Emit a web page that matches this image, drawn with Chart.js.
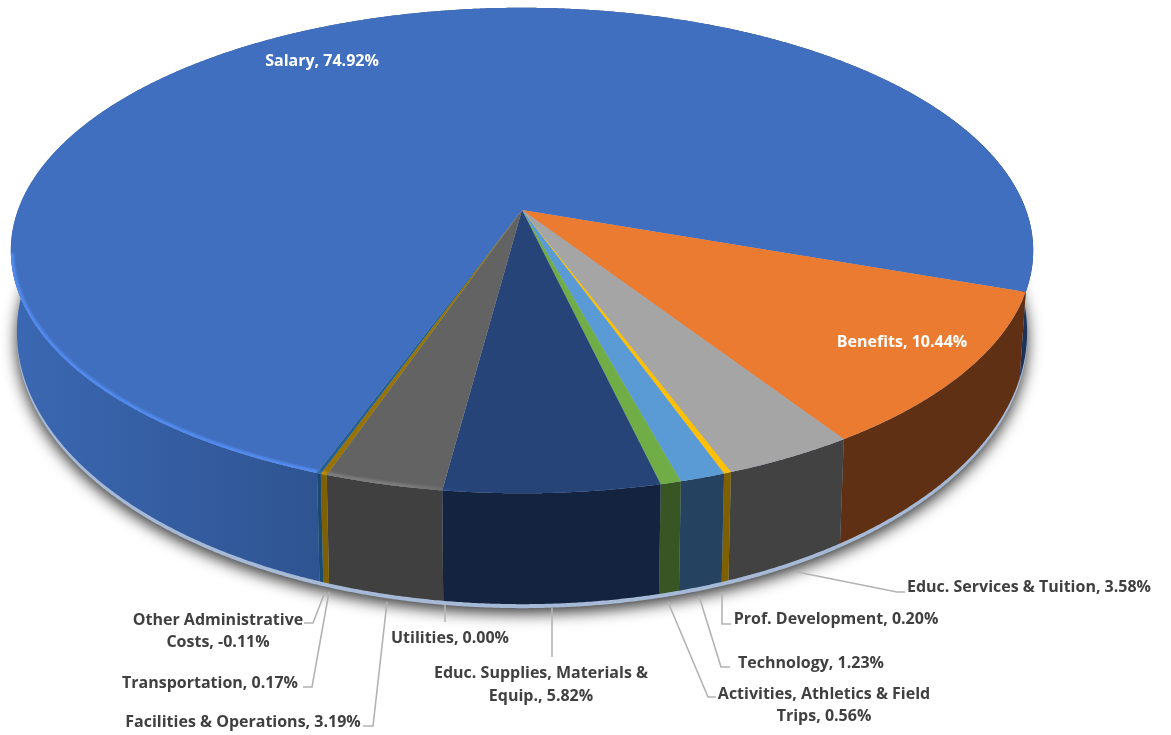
<!DOCTYPE html>
<html lang="en">
<head>
    <meta charset="UTF-8">
    <title>Budget by category</title>
    <script src="https://cdn.jsdelivr.net/npm/chart.js"></script>
    <style>
        html, body { margin: 0; padding: 0; background: #ffffff; }
        /* the reference is a slightly soft screenshot */
        canvas { display: block; filter: blur(0.4px); }
    </style>
</head>
<body>
    <canvas id="pie" width="1171" height="735"></canvas>

    <script>
        // Data
        const categories = [
            'Salary', 'Benefits', 'Educ. Services & Tuition', 'Prof. Development', 'Technology',
            'Activities, Athletics & Field Trips', 'Educ. Supplies, Materials & Equip.', 'Utilities',
            'Facilities & Operations', 'Transportation', 'Other Administrative Costs'
        ];
        const percents = [74.92, 10.44, 3.58, 0.20, 1.23, 0.56, 5.82, 0.00, 3.19, 0.17, -0.11];
        const topColors = ['#416FBF', '#EB7B30', '#A5A5A5', '#FFC000', '#5B9BD5', '#70AD47', '#264478', '#9E480E', '#636363', '#997300', '#255E91'];
        const wallColors = ['#2F5597', '#5F3013', '#424242', '#7F6000', '#254360', '#375623', '#14233F', '#5F2B08', '#404040', '#7F6000', '#1B4A70'];

        // Label placement: text lines, centre x, baselines, colour, leader line
        const labelLayout = [
            { i: 0, lines: ['Salary, 74.92%'], x: 322, y: [66], color: '#ffffff' },
            { i: 1, lines: ['Benefits, 10.44%'], x: 902, y: [347], color: '#ffffff' },
            { i: 2, lines: ['Educ. Services & Tuition, 3.58%'], x: 1029, y: [592], leader: [[797, 572], [897, 592], [905, 592]] },
            { i: 3, lines: ['Prof. Development, 0.20%'], x: 836, y: [624], leader: [[722, 592], [722, 624], [731, 624]] },
            { i: 4, lines: ['Technology, 1.23%'], x: 811, y: [668], leader: [[699, 596], [721, 667], [730, 667]] },
            { i: 5, lines: ['Activities, Athletics & Field', 'Trips, 0.56%'], x: 824, y: [699, 721], leader: [[668, 602], [708, 697], [716, 697]] },
            { i: 6, lines: ['Educ. Supplies, Materials &', 'Equip., 5.82%'], x: 541, y: [678, 701], leader: [[552, 608], [552, 657]] },
            { i: 7, lines: ['Utilities, 0.00%'], x: 450, y: [643], leader: [[445, 605], [445, 622]] },
            { i: 8, lines: ['Facilities & Operations, 3.19%'], x: 243, y: [727], leader: [[387, 602], [373, 726], [363, 726]] },
            { i: 9, lines: ['Transportation, 0.17%'], x: 210, y: [688], leader: [[329, 592], [312, 687], [303, 687]] },
            { i: 10, lines: ['Other Administrative', 'Costs, -0.11%'], x: 218, y: [625, 647], leader: [[325, 592], [313, 623], [304, 623]] }
        ];

        // Perspective of the top and bottom discs
        const topDisc = { cx: 522, cy: 210, a: 504, b: 236, k: 0.167 };
        const bottomDisc = { cx: 522, cy: 286.5, a: 498, b: 264.6, k: 0.167 };

        function project(disc, angle) {
            const s = Math.sin(angle), c = Math.cos(angle), w = 1 - disc.k * s;
            return [disc.cx + disc.a * c / w, disc.cy + disc.b * s / w];
        }

        function arcPoints(disc, start, end) {
            const pts = [], step = Math.PI / 720;
            for (let a = start; a < end; a += step) pts.push(project(disc, a));
            pts.push(project(disc, end));
            return pts;
        }

        function tracePath(ctx, pts) {
            ctx.beginPath();
            pts.forEach((p, n) => n ? ctx.lineTo(p[0], p[1]) : ctx.moveTo(p[0], p[1]));
            ctx.closePath();
        }

        function brighten(hex, t) {
            const n = parseInt(hex.slice(1), 16);
            const m = v => Math.min(255, Math.round(v * t));
            return [m(n >> 16), m((n >> 8) & 255), m(n & 255)];
        }

        const pie3d = {
            id: 'pie3d',
            // the doughnut controller has worked out the angles, only the drawing is replaced
            beforeDatasetsDraw(chart) {
                const ctx = chart.ctx;
                const arcs = chart.getDatasetMeta(0).data.map(el => el.getProps(['startAngle', 'endAngle'], true));

                // shadow and pale edge under the pie
                ctx.save();
                ctx.shadowColor = 'rgba(0,0,0,0.8)';
                ctx.shadowBlur = 15;
                ctx.shadowOffsetY = 5;
                ctx.fillStyle = '#A6B9D6';
                const under = arcPoints(bottomDisc, 0, Math.PI * 2).map(p => [p[0], p[1] + 4]);
                tracePath(ctx, under);
                ctx.fill();
                ctx.restore();

                // walls
                const blueWall = ctx.createLinearGradient(12, 0, 1035, 0);
                blueWall.addColorStop(0, '#3B68B3');
                blueWall.addColorStop(0.31, '#2E5390');
                blueWall.addColorStop(0.96, '#1F3864');
                blueWall.addColorStop(1, '#1A3058');
                arcs.forEach((arc, i) => {
                    if (arc.endAngle - arc.startAngle <= 0) return;
                    const pts = arcPoints(topDisc, arc.startAngle, arc.endAngle)
                        .concat(arcPoints(bottomDisc, arc.startAngle, arc.endAngle).reverse());
                    tracePath(ctx, pts);
                    ctx.fillStyle = i === 0 ? blueWall : wallColors[i];
                    ctx.fill();
                });

                // top face
                arcs.forEach((arc, i) => {
                    if (arc.endAngle - arc.startAngle <= 0) return;
                    const pts = [[topDisc.cx, topDisc.cy]].concat(arcPoints(topDisc, arc.startAngle, arc.endAngle));
                    tracePath(ctx, pts);
                    ctx.fillStyle = topColors[i];
                    ctx.fill();

                    // lighter bevel along the front left of the rim
                    ctx.save();
                    ctx.clip();
                    const rgb = brighten(topColors[i], 1.3);
                    const glow = ctx.createLinearGradient(10, 0, 470, 0);
                    glow.addColorStop(0, `rgba(${rgb},0.85)`);
                    glow.addColorStop(0.85, `rgba(${rgb},0.9)`);
                    glow.addColorStop(1, `rgba(${rgb},0)`);
                    const rim = arcPoints(topDisc, arc.startAngle, arc.endAngle)
                        .filter(p => p[1] > 252 && p[0] < 470);
                    if (rim.length > 1) {
                        ctx.beginPath();
                        rim.forEach((p, n) => n ? ctx.lineTo(p[0], p[1]) : ctx.moveTo(p[0], p[1]));
                        ctx.strokeStyle = glow;
                        ctx.lineWidth = 6;
                        ctx.filter = 'blur(1px)';
                        ctx.stroke();
                    }
                    ctx.restore();
                });
                return false;
            },
            // afterDatasetsDraw is skipped once the hook above returns false
            afterDraw(chart) {
                const ctx = chart.ctx;
                ctx.save();
                ctx.textAlign = 'center';
                ctx.textBaseline = 'alphabetic';
                ctx.font = 'bold 16px "Open Sans"';
                labelLayout.forEach(lab => {
                    if (lab.leader) {
                        ctx.beginPath();
                        lab.leader.forEach((p, n) => n ? ctx.lineTo(p[0], p[1]) : ctx.moveTo(p[0], p[1]));
                        ctx.strokeStyle = '#B3B3B3';
                        ctx.lineWidth = 1.6;
                        ctx.stroke();
                    }
                    ctx.fillStyle = lab.color || '#404040';
                    lab.lines.forEach((line, n) => ctx.fillText(line, lab.x, lab.y[n]));
                });
                ctx.restore();
            }
        };

        new Chart(document.getElementById('pie'), {
            type: 'pie',
            data: {
                labels: categories,
                datasets: [{ data: percents, backgroundColor: topColors, borderWidth: 0 }]
            },
            options: {
                responsive: false,
                animation: false,
                rotation: 200.05,
                plugins: { legend: { display: false }, tooltip: { enabled: false } }
            },
            plugins: [pie3d]
        });
    </script>
</body>
</html>
